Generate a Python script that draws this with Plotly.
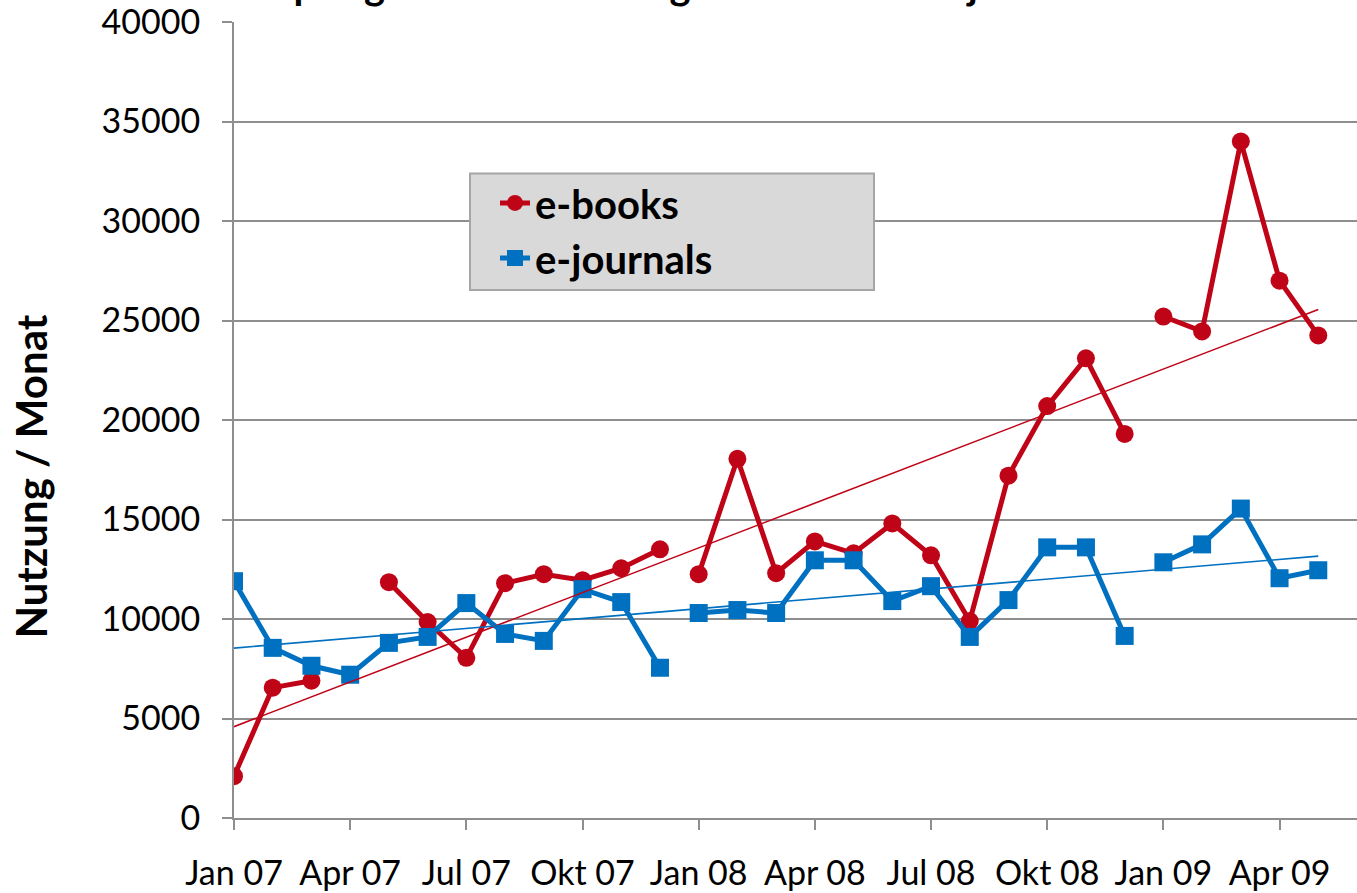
import numpy as np
import plotly.graph_objects as go

# ---- data ----
month_names = ["Jan", "Feb", "Mrz", "Apr", "Mai", "Jun", "Jul", "Aug", "Sep", "Okt", "Nov", "Dez"]

ebooks_2007 = [2100, 6550, 6900, None, 11850, 9850, 8050, 11800, 12250, 11950, 12550, 13500]
ebooks_2008 = [12250, 18050, 12300, 13900, 13300, 14800, 13200, 9900, 17200, 20700, 23100, 19300]
ebooks_2009 = [25200, 24450, 34000, 27000, 24250]

journals_2007 = [11900, 8550, 7650, 7200, 8800, 9100, 10800, 9250, 8900, 11500, 10850, 7550]
journals_2008 = [10300, 10450, 10300, 12950, 12950, 10900, 11650, 9100, 10950, 13600, 13600, 9150]
journals_2009 = [12850, 13750, 15550, 12050, 12450]

years = ["07", "08", "09"]
ebooks_by_year = [ebooks_2007, ebooks_2008, ebooks_2009]
journals_by_year = [journals_2007, journals_2008, journals_2009]

series_names = ["e-books", "e-journals"]
series_colors = ["#C00418", "#0070C0"]
y_title = "Nutzung / Monat"
chart_title = "SpringerLink \u2013 Nutzung e-books und e-journals"


def build(by_year):
    """Month index on x; a None separates the years (the line breaks there)."""
    xs, ys = [], []
    offset = 0
    for i, vals in enumerate(by_year):
        if i > 0:
            xs.append(None)
            ys.append(None)
        for m, v in enumerate(vals):
            xs.append(offset + m)
            ys.append(v)
        offset += 12
    return xs, ys


labels = []
for yr, vals in zip(years, ebooks_by_year):
    for m in range(len(vals)):
        labels.append(f"{month_names[m]} {yr}")

tick_idx = list(range(0, len(labels), 3))
tick_txt = [labels[i] for i in tick_idx]

fig = go.Figure()

symbols = ["circle", "square"]
msizes = [18, 18]
for name, color, sym, ms, data in zip(series_names, series_colors, symbols, msizes,
                                      [ebooks_by_year, journals_by_year]):
    xs, ys = build(data)
    fig.add_trace(go.Scatter(
        x=xs, y=ys, mode="lines+markers", name=name,
        line=dict(color=color, width=5),
        marker=dict(symbol=sym, size=ms, color=color),
        connectgaps=False,
    ))

# linear trend lines (least squares on the available points)
for color, data in zip(series_colors, [ebooks_by_year, journals_by_year]):
    xs, ys = build(data)
    px = np.array([x for x, y in zip(xs, ys) if x is not None and y is not None], float)
    py = np.array([y for x, y in zip(xs, ys) if x is not None and y is not None], float)
    k, d = np.polyfit(px, py, 1)
    tx = np.array([px.min(), px.max()])
    fig.add_trace(go.Scatter(
        x=tx, y=k * tx + d, mode="lines", showlegend=False, hoverinfo="skip",
        line=dict(color=color, width=1.6),
    ))

W, H = 1357, 893
ML, MR, MT, MB = 234, 0, 19, 75
pw, ph = W - ML - MR, H - MT - MB


def px_x(p):
    return (p - ML) / pw


def px_y(p):
    return (H - MB - p) / ph


grid = "#8E8E8E"
tickfont = dict(family="Lato", size=34, color="#000000")

fig.update_layout(
    width=W, height=H, autosize=False,
    margin=dict(l=ML, r=MR, t=MT, b=MB, pad=0),
    paper_bgcolor="white", plot_bgcolor="white",
    font=dict(family="Lato", color="#000000"),
    showlegend=True,
    legend=dict(
        x=px_x(495), y=px_y(168), xanchor="left", yanchor="top",
        bgcolor="rgba(0,0,0,0)", borderwidth=0,
        font=dict(family="Lato", size=40, color="#000000", weight="bold"),
        tracegroupgap=0,
    ),
    xaxis=dict(
        range=[0, 29], tickmode="array", tickvals=tick_idx, ticktext=tick_txt,
        showgrid=False, zeroline=False,
        showline=True, linecolor=grid, linewidth=2,
        ticks="outside", ticklen=10, tickwidth=2, tickcolor=grid,
        tickfont=tickfont, ticklabelstandoff=14, ticklabeloverflow="allow",
    ),
    yaxis=dict(
        range=[0, 40000], dtick=5000, tickformat="d",
        showgrid=True, gridcolor=grid, gridwidth=2,
        zeroline=False, showline=True, linecolor=grid, linewidth=2,
        ticks="outside", ticklen=10, tickwidth=2, tickcolor=grid,
        tickfont=tickfont, ticklabelstandoff=15, ticklabeloverflow="allow",
    ),
    shapes=[dict(
        type="rect", xref="paper", yref="paper", layer="above",
        x0=px_x(470), x1=px_x(874), y0=px_y(288), y1=px_y(171),
        fillcolor="#D9D9D9", line=dict(color="#A6A6A6", width=2),
    )],
    annotations=[
        dict(text=y_title, xref="paper", yref="paper", x=px_x(31), y=px_y(475),
             xanchor="center", yanchor="middle", textangle=-90, showarrow=False,
             font=dict(family="Lato", size=42, color="#000000", weight="bold")),
        dict(text=chart_title, xref="paper", yref="paper", x=px_x(690), y=1,
             xanchor="center", yanchor="bottom", yshift=12, showarrow=False,
             font=dict(family="Lato", size=40, color="#000000", weight="bold")),
    ],
)

fig.write_html(
    "out.html",
    config={"displayModeBar": False},
    post_script="document.body.style.margin='0px';document.body.style.overflow='hidden';",
)
